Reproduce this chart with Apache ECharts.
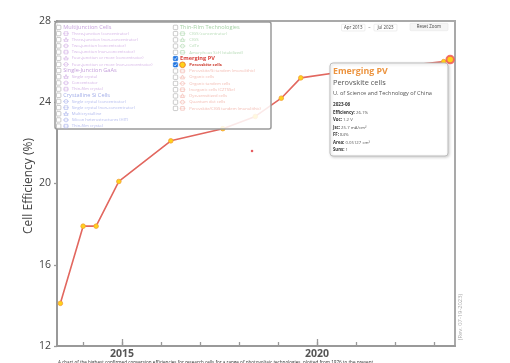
<!DOCTYPE html>
<html><head><meta charset="utf-8">
<script src="https://cdn.jsdelivr.net/npm/echarts@6/dist/echarts.min.js"></script>
<style>html,body{margin:0;padding:0;background:#fff}#c{width:510px;height:363px}</style>
</head><body><div id="c"></div>
<script>
// ---- data ----
const dates = ['2013-06','2014-01','2014-05','2014-12','2016-04','2017-08','2018-06','2019-02','2019-08','2020-09','2021-11','2023-04','2023-06'];
const efficiency = [14.1,17.9,17.9,20.1,22.1,22.7,23.3,24.2,25.2,25.5,25.7,26.0,26.1];
const strayDates = ['2018-05'];
const strayValues = [21.6];
const yTicks = [12,16,20,24,28];
const xTickYears = [2014,2015,2016,2017,2018,2019,2020,2021,2022,2023];
const xLabelYears = [2015,2020];
const legendLeft = ['Multijunction Cells','Three-junction (concentrator)','Three-junction (non-concentrator)','Two-junction (concentrator)','Two-junction (non-concentrator)','Four-junction or more (concentrator)','Four-junction or more (non-concentrator)','Single-Junction GaAs','Single crystal','Concentrator','Thin-film crystal','Crystalline Si Cells','Single crystal (concentrator)','Single crystal (non-concentrator)','Multicrystalline','Silicon heterostructures (HIT)','Thin-film crystal'];
const legendRight = ['Thin-Film Technologies','CIGS (concentrator)','CIGS','CdTe','Amorphous Si:H (stabilized)','Emerging PV','Perovskite cells','Perovskite/Si tandem (monolithic)','Organic cells','Organic tandem cells','Inorganic cells (CZTSSe)','Dye-sensitized cells','Quantum dot cells','Perovskite/CIGS tandem (monolithic)'];
const tipInfo = {group:'Emerging PV', tech:'Perovskite cells', org:'U. of Science and Technology of China', date:'2023-06', voc:'1.2 V', jsc:'25.7 mA/cm²', ff:'84%', area:'0.05127 cm²', suns:'1'};
const rangeLabels = ['Apr 2013','Jul 2023'];

// ---- helpers ----
function toYear(s){const p=s.split('-');return +p[0]+(+p[1]-1)/12;}
const pts = dates.map((d,i)=>[toYear(d),efficiency[i]]);
const stray = strayDates.map((d,i)=>[toYear(d),strayValues[i]]);
const FONT = '"Open Sans", sans-serif';

function leftColor(i){ if(i<=6) return i===0?'#c7a3dd':'#d6b6e7'; if(i<=10) return i===7?'#c6a2dc':'#d4b4e6'; return i===11?'#a3aee8':'#b3bbee'; }
function rightColor(i){ if(i<=4) return i===0?'#a6d2a6':'#b8dcb8'; if(i===5) return '#d8433c'; if(i===6) return '#cc3b2e'; return '#f3bcb3'; }

const gfx = [];
function add(el, z){ el.z = z; el.zlevel = 0; gfx.push(el); }

// legend box
const LZ = 100;
add({type:'rect',shape:{x:55,y:22,width:216,height:107,r:2},style:{fill:'rgba(255,255,255,0.86)',stroke:'#9a9a9a',lineWidth:1.5}}, LZ);
function checkbox(x,y,checked){
  add({type:'rect',shape:{x:x,y:y-2.2,width:4.4,height:4.4,r:0.8},style:{fill:checked?'#1f74e0':'#fff',stroke:checked?'#1f74e0':'#a8a8a8',lineWidth:0.6}}, LZ+1);
  if(checked) add({type:'polyline',shape:{points:[[x+0.9,y],[x+1.8,y+1.1],[x+3.5,y-1.2]]},style:{stroke:'#fff',lineWidth:0.8,fill:null}}, LZ+2);
}
function icon(cx,y,col,kind,big){
  add({type:'line',shape:{x1:cx-3,y1:y,x2:cx+3,y2:y},style:{stroke:col,lineWidth:0.6}}, LZ+1);
  if(big){
    add({type:'circle',shape:{cx:cx,cy:y,r:2.8},style:{fill:'#ffd21a',stroke:'#f0882a',lineWidth:1}}, LZ+2);
  } else if(kind%3===0){
    add({type:'circle',shape:{cx:cx,cy:y,r:1.9},style:{fill:'rgba(255,255,255,0.4)',stroke:col,lineWidth:0.7}}, LZ+2);
  } else if(kind%3===1){
    add({type:'rect',shape:{x:cx-1.8,y:y-1.8,width:3.6,height:3.6},style:{fill:'rgba(255,255,255,0.4)',stroke:col,lineWidth:0.7}}, LZ+2);
  } else {
    add({type:'polygon',shape:{points:[[cx,y-2.2],[cx+2,y+1.6],[cx-2,y+1.6]]},style:{fill:'rgba(255,255,255,0.4)',stroke:col,lineWidth:0.7}}, LZ+2);
  }
}
const rowH = 6.17, row0 = 27.4;
legendLeft.forEach((t,i)=>{
  const y = row0 + i*rowH, isH = (i===0||i===7||i===11);
  checkbox(56.5,y,false);
  if(isH){
    add({type:'text',style:{x:63.3,y:y,text:t,fontSize:5.6,fontFamily:FONT,fill:leftColor(i),verticalAlign:'middle'}}, LZ+2);
  } else {
    icon(66,y,leftColor(i),i,false);
    add({type:'text',style:{x:71.7,y:y,text:t,fontSize:4.2,fontFamily:FONT,fill:leftColor(i),verticalAlign:'middle'}}, LZ+2);
  }
});
legendRight.forEach((t,i)=>{
  const y = row0 + i*6.23, isH = (i===0||i===5);
  const checked = (i===5||i===6);
  checkbox(173.3,y,checked);
  if(isH){
    add({type:'text',style:{x:180,y:y,text:t,fontSize:5.6,fontFamily:FONT,fontWeight:i===5?'bold':'normal',fill:rightColor(i),verticalAlign:'middle'}}, LZ+2);
  } else {
    icon(182.5,y,rightColor(i),i,i===6);
    add({type:'text',style:{x:189.3,y:y,text:t,fontSize:4.2,fontFamily:FONT,fontWeight:i===6?'bold':'normal',fill:rightColor(i),verticalAlign:'middle'}}, LZ+2);
  }
});

// tooltip-like info box
const TZ = 120;
const last = efficiency.length-1;
add({type:'rect',shape:{x:330,y:63,width:118,height:93,r:3},style:{fill:'#fff',stroke:'#bdbdbd',lineWidth:1,shadowBlur:3,shadowColor:'rgba(0,0,0,0.18)',shadowOffsetX:1,shadowOffsetY:1}}, TZ);
add({type:'text',style:{x:333,y:71,text:tipInfo.group,fontSize:8.8,fontWeight:'bold',fontFamily:FONT,fill:'#ec9440',verticalAlign:'middle'}}, TZ+1);
add({type:'text',style:{x:333,y:83,text:tipInfo.tech,fontSize:7.4,fontFamily:FONT,fill:'#555',verticalAlign:'middle'}}, TZ+1);
add({type:'text',style:{x:333,y:93.3,text:tipInfo.org,fontSize:5.6,fontFamily:FONT,fill:'#555',verticalAlign:'middle'}}, TZ+1);
add({type:'text',style:{x:333,y:105,text:tipInfo.date,fontSize:4.6,fontWeight:'bold',fontFamily:FONT,fill:'#333',verticalAlign:'middle'}}, TZ+1);
const rows = [['Efficiency: ',efficiency[last]+'%'],['Voc: ',tipInfo.voc],['Jsc: ',tipInfo.jsc],['FF: ',tipInfo.ff],['Area: ',tipInfo.area],['Suns: ',tipInfo.suns]];
rows.forEach((r,i)=>{
  add({type:'text',style:{x:333,y:112.7+i*7.4,text:'{b|'+r[0]+'}{n|'+r[1]+'}',fontFamily:FONT,verticalAlign:'middle',rich:{b:{fontSize:4.3,fontWeight:'bold',fill:'#333',fontFamily:FONT},n:{fontSize:4.3,fill:'#555',fontFamily:FONT}}}}, TZ+1);
});

// range selector & reset button
add({type:'rect',shape:{x:341.5,y:24.2,width:23.5,height:6.8,r:1},style:{fill:'#fff',stroke:'#e3e3e3',lineWidth:0.6}}, 90);
add({type:'text',style:{x:353.2,y:27.7,text:rangeLabels[0],fontSize:4.4,fontFamily:FONT,fill:'#444',align:'center',verticalAlign:'middle'}}, 91);
add({type:'text',style:{x:369.5,y:27.7,text:'–',fontSize:4.6,fontFamily:FONT,fill:'#666',align:'center',verticalAlign:'middle'}}, 91);
add({type:'rect',shape:{x:374,y:24.2,width:23,height:6.8,r:1},style:{fill:'#fff',stroke:'#e3e3e3',lineWidth:0.6}}, 90);
add({type:'text',style:{x:385.5,y:27.7,text:rangeLabels[1],fontSize:4.4,fontFamily:FONT,fill:'#444',align:'center',verticalAlign:'middle'}}, 91);
add({type:'rect',shape:{x:410,y:23.3,width:38,height:7.4,r:1},style:{fill:'#f5f5f5',stroke:'#e8e8e8',lineWidth:0.6}}, 90);
add({type:'text',style:{x:429,y:27,text:'Reset Zoom',fontSize:4.4,fontFamily:FONT,fill:'#444',align:'center',verticalAlign:'middle'}}, 91);

// axis title, rev note, caption
add({type:'text',x:29,y:186,rotation:Math.PI/2,style:{x:0,y:0,text:'Cell Efficiency (%)',fontSize:12,fontFamily:FONT,fill:'#444',align:'center',verticalAlign:'middle'}}, 50);
add({type:'text',x:460.5,y:317,rotation:Math.PI/2,style:{x:0,y:0,text:'(Rev. 07-19-2023)',fontSize:5.8,fontFamily:FONT,fill:'#aaa',align:'center',verticalAlign:'middle'}}, 50);
add({type:'text',style:{x:58,y:360.6,text:'A chart of the highest confirmed conversion efficiencies for research cells for a range of photovoltaic technologies, plotted from 1976 to the present.',fontSize:4.6,fontFamily:FONT,fill:'#333',verticalAlign:'top'}}, 50);

const seriesData = pts.map((p,i)=> i===last ? {value:p,symbolSize:7.5,itemStyle:{color:'#ffcf1a',borderColor:'rgba(240,90,90,0.85)',borderWidth:2}} : p);

const chart = echarts.init(document.getElementById('c'),null,{renderer:'canvas'});
chart.setOption({
  animation:false,
  backgroundColor:'#fff',
  grid:{left:57,right:55,top:21,bottom:17,show:true,borderColor:'#a9a9a9',borderWidth:2},
  xAxis:[{
    type:'value',min:2013.33,max:2023.54,splitLine:{show:false},
    axisLine:{show:true,lineStyle:{color:'#999',width:2}},
    axisTick:{show:true,inside:true,length:4,customValues:xTickYears,lineStyle:{color:'#999',width:1.3}},
    axisLabel:{show:true,customValues:xLabelYears,margin:3,fontSize:10.5,fontWeight:'bold',color:'#555',fontFamily:FONT,formatter:v=>String(Math.round(v))}
  },{
    type:'value',min:2013.33,max:2023.54,position:'bottom',splitLine:{show:false},
    axisLine:{show:false},axisLabel:{show:false},
    axisTick:{show:true,inside:true,length:7,customValues:xLabelYears,lineStyle:{color:'#999',width:1.3}}
  }],
  yAxis:{
    type:'value',min:yTicks[0],max:yTicks[yTicks.length-1],interval:4,splitLine:{show:false},
    axisLine:{show:true,lineStyle:{color:'#999',width:2}},
    axisTick:{show:true,length:3,lineStyle:{color:'#999',width:1.3}},
    axisLabel:{margin:6,fontSize:10.5,color:'#444',fontFamily:FONT}
  },
  series:[{
    type:'line',data:seriesData,symbol:'circle',symbolSize:4.6,z:5,
    lineStyle:{color:'#e2675f',width:1.6},
    itemStyle:{color:'#ffd21a',borderColor:'#f2a03a',borderWidth:0.8}
  },{
    type:'scatter',data:stray,symbol:'circle',symbolSize:2.6,z:4,itemStyle:{color:'#e0353a'}
  }],
  graphic:gfx
});
</script></body></html>
